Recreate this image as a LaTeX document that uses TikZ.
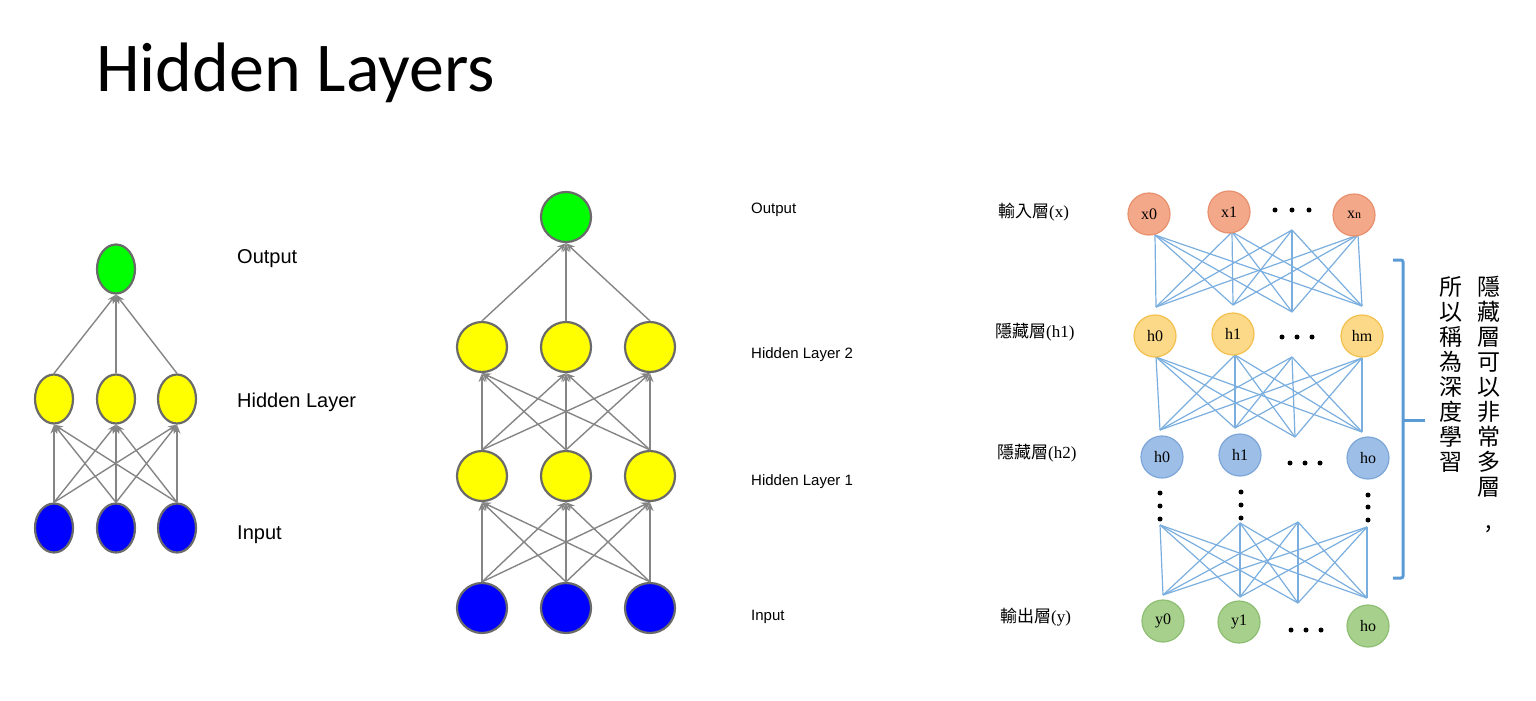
\documentclass[tikz,border=0pt]{standalone}
\usepackage{fontspec}
\usetikzlibrary{arrows.meta,shapes.geometric}
\setmainfont{Liberation Sans}
\newfontfamily\titlefont{Carlito}
\newfontfamily\seriffont{Liberation Serif}
\newfontfamily\cjk{Noto Sans CJK TC}
\definecolor{nodeborder}{HTML}{6A6A6A}
\definecolor{arrowgray}{HTML}{858585}
\definecolor{pureyellow}{HTML}{FFFF00}
\definecolor{puregreen}{HTML}{00FF00}
\definecolor{pureblue}{HTML}{0000FF}
\definecolor{netblue}{HTML}{7AAEDF}
\definecolor{bracketblue}{HTML}{5B9BD5}
\definecolor{xfill}{HTML}{F4A88A}
\definecolor{xdraw}{HTML}{E8906E}
\definecolor{hafill}{HTML}{FCD889}
\definecolor{hadraw}{HTML}{F2C04E}
\definecolor{hbfill}{HTML}{9DBEE6}
\definecolor{hbdraw}{HTML}{7DA6D8}
\definecolor{yfill}{HTML}{A8D08D}
\definecolor{ydraw}{HTML}{8DBE72}
\tikzset{
  ellnode/.style={ellipse, draw=nodeborder, line width=2.2pt, minimum width=38pt, minimum height=49pt, inner sep=0pt},
  circnode/.style={circle, draw=nodeborder, line width=2.2pt, minimum size=50pt, inner sep=0pt},
  conn/.style={draw=arrowgray, line width=1.4pt, -{Stealth[length=9pt,width=7pt]}},
  lbl/.style={anchor=base west, inner sep=0pt},
  rnode/.style={circle, line width=1.2pt, minimum size=42pt, inner sep=0pt, font=\seriffont\fontsize{16}{16}\selectfont},
  netline/.style={draw=netblue, line width=1.2pt},
  dotmark/.style={circle, fill=black, inner sep=0pt, minimum size=5pt},
  cjklabel/.style={anchor=west, inner sep=0pt},
}
\begin{document}
\begin{tikzpicture}[x=1pt,y=-1pt]
\useasboundingbox (0,0) rectangle (1536,701);
% title
\node[anchor=base west, inner sep=0pt, font=\titlefont\fontsize{70}{70}\selectfont] (title) at (96,91) {Hidden Layers};

% ---------- left network ----------
\node[ellnode, fill=puregreen] (lo) at (116,269) {};
\node[ellnode, fill=pureyellow] (lh1) at (54,399) {};
\node[ellnode, fill=pureyellow] (lh2) at (116,399) {};
\node[ellnode, fill=pureyellow] (lh3) at (177,399) {};
\node[ellnode, fill=pureblue] (li1) at (54,528) {};
\node[ellnode, fill=pureblue] (li2) at (116,528) {};
\node[ellnode, fill=pureblue] (li3) at (177,528) {};
\foreach \a in {1,2,3}{
  \draw[conn] (lh\a.north) -- (lo.south);
  \foreach \b in {1,2,3}{
    \draw[conn] (li\a.north) -- (lh\b.south);
  }
}
\begin{scope}[font=\fontsize{20}{20}\selectfont]
\node[lbl] (lt1) at (237,263) {Output};
\node[lbl] (lt2) at (237,407) {Hidden Layer};
\node[lbl] (lt3) at (237,539) {Input};
\end{scope}

% ---------- middle network ----------
\node[circnode, fill=puregreen] (mo) at (566,217) {};
\foreach \i/\x in {1/482,2/566,3/650}{
  \node[circnode, fill=pureyellow] (mb\i) at (\x,347) {};
  \node[circnode, fill=pureyellow] (ma\i) at (\x,476) {};
  \node[circnode, fill=pureblue] (mi\i) at (\x,608) {};
}
\foreach \a in {1,2,3}{
  \draw[conn] (mb\a.north) -- (mo.south);
  \foreach \b in {1,2,3}{
    \draw[conn] (mi\a.north) -- (ma\b.south);
    \draw[conn] (ma\a.north) -- (mb\b.south);
  }
}
\begin{scope}[font=\fontsize{15}{15}\selectfont]
\node[lbl] (mt1) at (751,213) {Output};
\node[lbl] (mt2) at (751,358) {Hidden Layer 2};
\node[lbl] (mt3) at (751,485) {Hidden Layer 1};
\node[lbl] (mt4) at (751,620) {Input};
\end{scope}

% ---------- right network ----------
\begin{scope}[font=\fontsize{17}{17}\selectfont]
\node[cjklabel] (rl1) at (998,212) {{\cjk 輸入層}{\seriffont(x)}};
\node[cjklabel] (rl2) at (995,332) {{\cjk 隱藏層}{\seriffont(h1)}};
\node[cjklabel] (rl3) at (997,453) {{\cjk 隱藏層}{\seriffont(h2)}};
\node[cjklabel] (rl4) at (1000,617) {{\cjk 輸出層}{\seriffont(y)}};
\end{scope}

% connection points
\coordinate (A1t) at (1155,235); \coordinate (A2t) at (1232,232); \coordinate (A3t) at (1292,230); \coordinate (A4t) at (1358,235);
\coordinate (A1b) at (1156,307); \coordinate (A2b) at (1233,305); \coordinate (A3b) at (1292,312); \coordinate (A4b) at (1362,306);
\coordinate (B1t) at (1156,357); \coordinate (B2t) at (1235,355); \coordinate (B3t) at (1292,357); \coordinate (B4t) at (1362,358);
\coordinate (B1b) at (1160,430); \coordinate (B2b) at (1235,428); \coordinate (B3b) at (1295,437); \coordinate (B4b) at (1362,432);
\coordinate (C1t) at (1160,525); \coordinate (C2t) at (1240,523); \coordinate (C3t) at (1298,522); \coordinate (C4t) at (1367,527);
\coordinate (C1b) at (1163,595); \coordinate (C2b) at (1240,597); \coordinate (C3b) at (1298,603); \coordinate (C4b) at (1367,598);
\foreach \L in {A,B,C}{
  \foreach \a in {1,2,3,4}{
    \foreach \b in {1,2,3,4}{
      \draw[netline] (\L\a t) -- (\L\b b);
    }
  }
}

\node[rnode, fill=xfill, draw=xdraw] (x0) at (1149,214) {x0};
\node[rnode, fill=xfill, draw=xdraw] (x1) at (1229,212) {x1};
\node[rnode, fill=xfill, draw=xdraw] (xn) at (1354,215) {x{\fontsize{12}{12}\selectfont n}};
\node[rnode, fill=hafill, draw=hadraw] (ha0) at (1155,336) {h0};
\node[rnode, fill=hafill, draw=hadraw] (ha1) at (1233,334) {h1};
\node[rnode, fill=hafill, draw=hadraw] (ham) at (1362,336) {hm};
\node[rnode, fill=hbfill, draw=hbdraw] (hb0) at (1162,457) {h0};
\node[rnode, fill=hbfill, draw=hbdraw] (hb1) at (1240,455) {h1};
\node[rnode, fill=hbfill, draw=hbdraw] (hbo) at (1368,458) {ho};
\node[rnode, fill=yfill, draw=ydraw] (y0) at (1163,621) {y0};
\node[rnode, fill=yfill, draw=ydraw] (y1) at (1239,622) {y1};
\node[rnode, fill=yfill, draw=ydraw] (yo) at (1368,626) {ho};

% horizontal dots
\foreach \x/\y [count=\k] in {1275/210,1292/210,1309/210,1282/337,1297/337,1312/337,1290/463,1305/463,1320/463,1291/630,1306/630,1321/630}{
  \node[dotmark] (hd\k) at (\x,\y) {};
}
% vertical dots
\foreach \x/\y [count=\k] in {1160/493,1160/506,1160/519,1241/492,1241/505,1241/518,1368/495,1368/507,1368/520}{
  \node[dotmark] (vd\k) at (\x,\y) {};
}

% bracket
\coordinate (bt) at (1393,260); \coordinate (bb) at (1393,578); \coordinate (bm) at (1403,420); \coordinate (bmt) at (1425,420);
\draw[draw=bracketblue, line width=3pt, rounded corners=2pt] (bt) -- (1403,260) -- (1403,578) -- (bb);
\draw[draw=bracketblue, line width=3pt] (bm) -- (bmt);

% vertical text
\node[anchor=north, align=center, inner sep=0pt, font=\cjk\fontsize{23}{25}\selectfont] (vt1) at (1489,276) {隱\\藏\\層\\可\\以\\非\\常\\多\\層\\[8pt],};
\node[anchor=north, align=center, inner sep=0pt, font=\cjk\fontsize{23}{25}\selectfont] (vt2) at (1451,276) {所\\以\\稱\\為\\深\\度\\學\\習};
\end{tikzpicture}
\end{document}
